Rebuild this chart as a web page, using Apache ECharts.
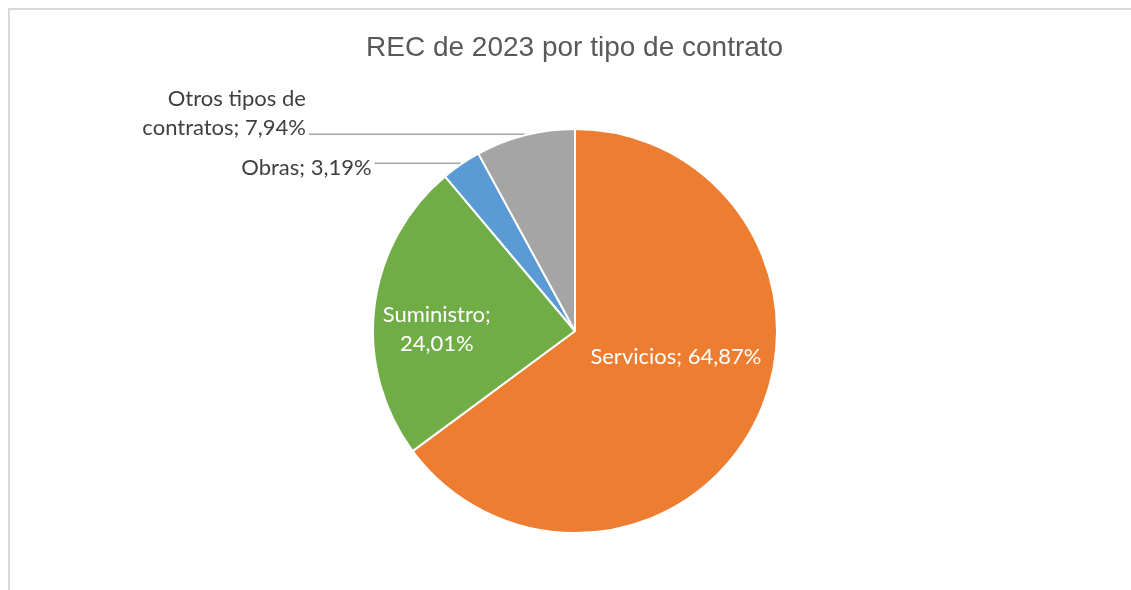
<!DOCTYPE html>
<html>
<head>
<meta charset="utf-8">
<script src="https://cdn.jsdelivr.net/npm/echarts@6/dist/echarts.min.js"></script>
<style>
  html, body { margin: 0; padding: 0; background: #fff; }
  #frame { position: absolute; left: 8px; top: 8px; width: 1200px; height: 700px;
           border-top: 2px solid #d9d9d9; border-left: 2px solid #d9d9d9; }
  #chart { position: absolute; left: 0; top: 0; width: 1131px; height: 590px; }
</style>
</head>
<body>
<div id="frame"></div>
<div id="chart"></div>
<script>
  // REC de 2023 por tipo de contrato (%)
  const categories = ['Servicios', 'Suministro', 'Obras', 'Otros tipos de contratos'];
  const values = [64.87, 24.01, 3.19, 7.94];
  const colors = ['#ED7D31', '#70AD47', '#5B9BD5', '#A5A5A5'];

  const fmt = v => v.toFixed(2).replace('.', ',') + '%';

  const chart = echarts.init(document.getElementById('chart'));

  const pieData = categories.map((name, i) => {
    const inside = i < 2;
    return {
      name: name,
      value: values[i],
      itemStyle: { color: colors[i] },
      label: {
        position: inside ? 'inside' : 'outside',
        color: inside ? '#ffffff' : '#404040'
      },
      labelLine: inside ? { show: false } : { show: true, length: 1, length2: i === 2 ? 86 : 216 }
    };
  });

  const option = {
    animation: false,
    title: {
      text: 'REC de 2023 por tipo de contrato',
      left: 361,
      top: 29,
      textStyle: { fontFamily: 'Liberation Sans', fontSize: 28, fontWeight: 'normal', color: '#595959' }
    },
    series: [
      {
        type: 'pie',
        center: [575, 331],
        radius: 202,
        startAngle: 90,
        clockwise: true,
        avoidLabelOverlap: false,
        itemStyle: { borderColor: '#ffffff', borderWidth: 2 },
        label: {
          fontFamily: 'Lato',
          fontSize: 22,
          lineHeight: 29,
          distanceToLabelLine: 3,
          formatter: p => {
            const v = fmt(p.value);
            if (p.dataIndex === 1) return p.name + ';\n' + v;
            if (p.dataIndex === 3) return 'Otros tipos de\ncontratos; ' + v;
            return p.name + '; ' + v;
          }
        },
        labelLine: { lineStyle: { color: '#a6a6a6', width: 1.5 } },
        labelLayout: p => {
          if (p.dataIndex === 0) return { dx: 8, dy: -21 };
          if (p.dataIndex === 1) return { dx: -35, dy: 11 };
          if (p.dataIndex === 2) return { dy: 5 };
          if (p.dataIndex === 3) return { dy: -21 };
          return {};
        },
        data: pieData
      }
    ]
  };

  chart.setOption(option);
</script>
</body>
</html>
